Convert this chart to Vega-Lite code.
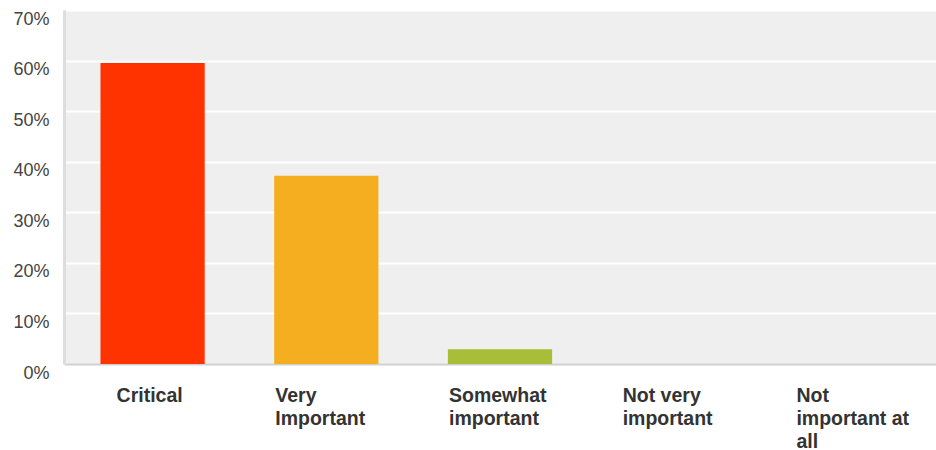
{
  "$schema": "https://vega.github.io/schema/vega-lite/v6.json",
  "autosize": "none",
  "padding": {"left": 64, "top": 10, "right": 0, "bottom": 86},
  "width": 872,
  "height": 354,
  "background": "white",
  "config": {
    "view": {"fill": "#efefef", "stroke": null},
    "font": "Liberation Sans"
  },
  "data": {
    "values": [
      {"category": "Critical", "percent": 59.5},
      {"category": "Very Important", "percent": 37.2},
      {"category": "Somewhat important", "percent": 2.9},
      {"category": "Not very important", "percent": 0},
      {"category": "Not important at all", "percent": 0}
    ]
  },
  "mark": {"type": "bar"},
  "encoding": {
    "x": {
      "field": "category",
      "type": "nominal",
      "sort": null,
      "scale": {"paddingInner": 0.4, "paddingOuter": 0.21},
      "axis": {
        "title": null,
        "labelAngle": 0,
        "ticks": false,
        "domainColor": "#d0d0d0",
        "domainWidth": 2,
        "labelAlign": "left",
        "labelBaseline": "top",
        "labelOffset": {"condition": {"test": "datum.value === 'Critical'", "value": -36}, "value": -51},
        "labelPadding": 22,
        "labelFontSize": 19.5,
        "labelFontWeight": "bold",
        "labelColor": "#333333",
        "labelLineHeight": 23,
        "labelLimit": 200,
        "labelExpr": "datum.value === 'Very Important' ? ['Very', 'Important'] : datum.value === 'Somewhat important' ? ['Somewhat', 'important'] : datum.value === 'Not very important' ? ['Not very', 'important'] : datum.value === 'Not important at all' ? ['Not', 'important at', 'all'] : datum.value"
      }
    },
    "y": {
      "field": "percent",
      "type": "quantitative",
      "scale": {"domain": [0, 70], "nice": false},
      "axis": {
        "title": null,
        "values": [0, 10, 20, 30, 40, 50, 60, 70],
        "labelExpr": "datum.value + '%'",
        "ticks": false,
        "domainColor": "#dddddd",
        "domainWidth": 3,
        "gridColor": "#ffffff",
        "gridWidth": 2,
        "labelBaseline": "top",
        "labelPadding": 15,
        "labelFontSize": 18,
        "labelColor": "#444444"
      }
    },
    "color": {
      "field": "category",
      "type": "nominal",
      "sort": null,
      "scale": {
        "domain": ["Critical", "Very Important", "Somewhat important", "Not very important", "Not important at all"],
        "range": ["#ff3300", "#f5ae20", "#a8bd38", "#4a86c5", "#8e5ea2"]
      },
      "legend": null
    }
  }
}
